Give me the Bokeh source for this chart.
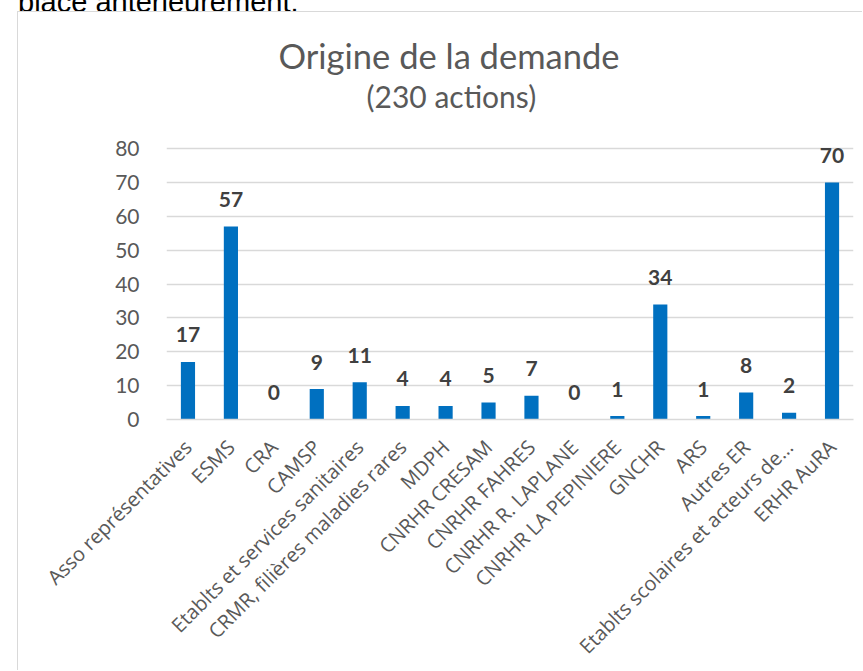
import math
from bokeh.plotting import figure
from bokeh.layouts import row, column
from bokeh.models import (ColumnDataSource, Range1d, FactorRange, Title,
                          Spacer, Div)
from bokeh.core.properties import value
from bokeh.embed import file_html
from bokeh.resources import INLINE

categories = ["Asso représentatives", "ESMS", "CRA", "CAMSP",
              "Etablts et services sanitaires", "CRMR, filières maladies rares",
              "MDPH", "CNRHR CRESAM", "CNRHR FAHRES", "CNRHR R. LAPLANE",
              "CNRHR LA PEPINIERE", "GNCHR", "ARS", "Autres ER",
              "Etablts scolaires et acteurs de…", "ERHR AuRA"]
values = [17, 57, 0, 9, 11, 4, 4, 5, 7, 0, 1, 34, 1, 8, 2, 70]
y_ticks = [0, 10, 20, 30, 40, 50, 60, 70, 80]
title_text = "Origine de la demande"
subtitle_text = "(230 actions)"
page_text = "place antérieurement."

src = ColumnDataSource(dict(cat=categories, val=values,
                            lab=[str(v) for v in values]))

p = figure(x_range=FactorRange(*categories, range_padding=0.0),
           y_range=Range1d(0, 83),
           width=845, height=659,
           output_backend="svg", toolbar_location=None,
           min_border_left=148, min_border_right=10,
           min_border_top=126, min_border_bottom=251,
           styles={"border-left": "1px solid #d9d9d9",
                   "border-top": "1px solid #d9d9d9"})

p.vbar(x="cat", top="val", width=0.33, source=src,
       fill_color="#0070C0", line_color=None)
p.text(x="cat", y="val", text="lab", source=src, y_offset=-27,
       text_align="center", text_baseline="alphabetic",
       text_font=value("Lato"), text_font_style="bold",
       text_font_size="21px", text_color="#404040")

p.outline_line_color = None
p.xgrid.grid_line_color = None
p.ygrid.grid_line_color = "#d9d9d9"
p.ygrid.grid_line_width = 1.3
p.yaxis.ticker = y_ticks
p.yaxis.axis_line_color = None
p.yaxis.major_tick_line_color = None
p.yaxis.minor_tick_line_color = None
p.yaxis.major_label_standoff = 21
p.yaxis.major_label_text_font = "Lato"
p.yaxis.major_label_text_font_size = "21px"
p.yaxis.major_label_text_color = "#595959"

p.xaxis.axis_line_color = "#d9d9d9"
p.xaxis.axis_line_width = 1.5
p.xaxis.major_tick_line_color = None
p.xaxis.minor_tick_line_color = None
p.xaxis.major_label_orientation = math.pi / 4
p.xaxis.major_label_standoff = 18
p.xaxis.major_label_text_font = "Open Sans"
p.xaxis.major_label_text_font_size = "20px"
p.xaxis.major_label_text_color = "#595959"

# spacer panel between subtitle and plot frame
p.add_layout(Title(text=" ", standoff=12, text_font_size="10px"), "above")
p.add_layout(Title(text=subtitle_text, align="left", offset=200,
                   standoff=0, text_font="Lato", text_font_style="normal",
                   text_font_size="30px", text_color="#595959"), "above")
p.add_layout(Title(text=title_text, align="left", offset=112,
                   standoff=0, text_font="Lato", text_font_style="normal",
                   text_font_size="34.5px", text_color="#595959"), "above")

head = Div(text=('<div style="font-family:\'Liberation Sans\';font-size:29px;'
                 'line-height:29px;color:#000;white-space:nowrap;'
                 'margin:-18px 0 0 1px;">' + page_text + '</div>'),
           width=845, height=11, margin=(0, 0, 0, 0),
           styles={"overflow": "hidden"})

layout = row(Spacer(width=17, height=10), column(head, p))

open("out.html", "w").write(file_html(layout, INLINE))
